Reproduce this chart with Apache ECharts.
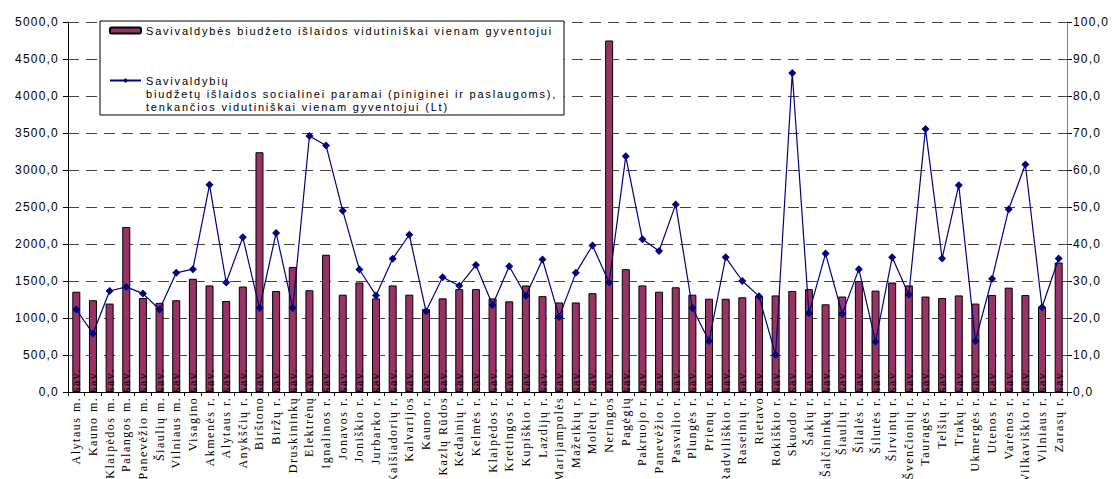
<!DOCTYPE html>
<html>
<head>
<meta charset="utf-8">
<script src="https://cdn.jsdelivr.net/npm/echarts@6/dist/echarts.min.js"></script>
<style>
  html, body { margin: 0; padding: 0; background: #fff; }
  #chart { width: 1115px; height: 479px; }
  /* the original has widely spaced letters */
  #chart svg text { letter-spacing: 1.2px; }
  #chart svg text[style*="11px"] { letter-spacing: 1.8px; }
  #chart svg text[style*="Serif"] { letter-spacing: 1.5px; }
</style>
</head>
<body>
<div id="chart"></div>
<script>
var categories = [
  'Alytaus m. sav.', 'Kauno m. sav.', 'Klaipėdos m. sav.', 'Palangos m. sav.', 'Panevėžio m. sav.',
  'Šiaulių m. sav.', 'Vilniaus m. sav.', 'Visagino sav.', 'Akmenės r. sav.', 'Alytaus r. sav.',
  'Anykščių r. sav.', 'Birštono sav.', 'Biržų r. sav.', 'Druskininkų sav.', 'Elektrėnų sav.',
  'Ignalinos r. sav.', 'Jonavos r. sav.', 'Joniškio r. sav.', 'Jurbarko r. sav.', 'Kaišiadorių r. sav.',
  'Kalvarijos sav.', 'Kauno r. sav.', 'Kazlų Rūdos sav.', 'Kėdainių r. sav.', 'Kelmės r. sav.',
  'Klaipėdos r. sav.', 'Kretingos r. sav.', 'Kupiškio r. sav.', 'Lazdijų r. sav.', 'Marijampolės sav.',
  'Mažeikių r. sav.', 'Molėtų r. sav.', 'Neringos sav.', 'Pagėgių sav.', 'Pakruojo r. sav.',
  'Panevėžio r. sav.', 'Pasvalio r. sav.', 'Plungės r. sav.', 'Prienų r. sav.', 'Radviliškio r. sav.',
  'Raseinių r. sav.', 'Rietavo sav.', 'Rokiškio r. sav.', 'Skuodo r. sav.', 'Šakių r. sav.',
  'Šalčininkų r. sav.', 'Šiaulių r. sav.', 'Šilalės r. sav.', 'Šilutės r. sav.', 'Širvintų r. sav.',
  'Švenčionių r. sav.', 'Tauragės r. sav.', 'Telšių r. sav.', 'Trakų r. sav.', 'Ukmergės r. sav.',
  'Utenos r. sav.', 'Varėnos r. sav.', 'Vilkaviškio r. sav.', 'Vilniaus r. sav.', 'Zarasų r. sav.'
];

// Savivaldybės biudžeto išlaidos vidutiniškai vienam gyventojui (left axis)
var budgetValues = [
  1355, 1240, 1195, 2230, 1270, 1205, 1240, 1530, 1440, 1230,
  1425, 3240, 1365, 1690, 1375, 1855, 1315, 1480, 1265, 1440,
  1315, 1120, 1265, 1390, 1390, 1265, 1225, 1440, 1295, 1210,
  1210, 1335, 4750, 1660, 1440, 1355, 1415, 1315, 1260, 1260,
  1280, 1295, 1305, 1365, 1390, 1185, 1290, 1500, 1370, 1480,
  1440, 1290, 1270, 1305, 1195, 1310, 1410, 1310, 1150, 1750
];

// socialinė parama vienam gyventojui (right axis)
var socialValues = [
  22.3, 15.8, 27.3, 28.4, 26.6, 22.3, 32.2, 33.2, 56.0, 29.6,
  41.8, 22.7, 43.0, 22.7, 69.2, 66.6, 49.0, 33.1, 26.1, 36.0,
  42.5, 21.8, 31.0, 28.7, 34.3, 23.5, 34.0, 26.0, 35.8, 20.3,
  32.2, 39.6, 29.6, 63.7, 41.3, 38.1, 50.7, 22.7, 13.8, 36.4,
  30.0, 25.9, 10.0, 86.2, 21.3, 37.4, 21.1, 33.2, 13.6, 36.4,
  26.3, 71.1, 36.1, 55.9, 13.8, 30.6, 49.4, 61.5, 22.9, 36.1
];

var barName = 'Savivaldybės biudžeto išlaidos vidutiniškai vienam gyventojui';
var lineName = 'Savivaldybių biudžetų išlaidos socialinei paramai (piniginei ir paslaugoms), tenkančios vidutiniškai vienam gyventojui (Lt)';

function fmt(v) {
  return v.toFixed(1).replace('.', ',');
}

var chart = echarts.init(document.getElementById('chart'), null, { renderer: 'svg' });

var option = {
  animation: false,
  backgroundColor: '#fff',
  grid: { left: 68, right: 48, top: 22, bottom: 87 },
  graphic: [{
    type: 'rect',
    z: 3,
    shape: { x: 100, y: 21, width: 464, height: 94 },
    style: { fill: '#fff', stroke: '#000', lineWidth: 1 }
  }],
  legend: {
    orient: 'vertical',
    left: 109,
    top: 24,
    z: 6,
    padding: 0,
    itemGap: 11,
    itemWidth: 31,
    itemHeight: 6,
    data: [barName, lineName],
    formatter: function (name) {
      if (name === lineName) {
        return '\n\nSavivaldybių\nbiudžetų išlaidos socialinei paramai (piniginei ir paslaugoms),\ntenkančios vidutiniškai vienam gyventojui (Lt)';
      }
      return name;
    },
    textStyle: { fontFamily: 'Liberation Sans', fontSize: 11, color: '#000', lineHeight: 13 }
  },
  xAxis: {
    type: 'category',
    data: categories,
    z: 10,
    axisLine: { lineStyle: { color: '#000', width: 1 } },
    axisTick: { show: true, interval: 0, length: 4, lineStyle: { color: '#000' } },
    axisLabel: {
      interval: 0,
      rotate: 90,
      margin: -24,
      fontFamily: 'Liberation Serif',
      fontSize: 12,
      color: '#000'
    }
  },
  yAxis: [{
    type: 'value',
    min: 0,
    max: 5000,
    interval: 500,
    axisLine: { show: true, lineStyle: { color: '#000' } },
    axisTick: { show: true, length: 5, lineStyle: { color: '#000' } },
    axisLabel: { formatter: fmt, fontFamily: 'Liberation Sans', fontSize: 12, color: '#000', margin: 9 },
    splitLine: { show: true, lineStyle: { color: '#444', type: [11, 7], width: 1 } }
  }, {
    type: 'value',
    position: 'right',
    min: 0,
    max: 100,
    interval: 10,
    axisLine: { show: true, lineStyle: { color: '#808080' } },
    axisTick: { show: true, length: 5, lineStyle: { color: '#000' } },
    axisLabel: { formatter: fmt, fontFamily: 'Liberation Sans', fontSize: 12, color: '#000', margin: 6 },
    splitLine: { show: false }
  }],
  series: [{
    name: barName,
    type: 'bar',
    yAxisIndex: 0,
    data: budgetValues,
    barWidth: 8,
    itemStyle: { color: '#993366', borderColor: '#000', borderWidth: 1 }
  }, {
    name: lineName,
    type: 'line',
    yAxisIndex: 1,
    data: socialValues,
    symbol: 'diamond',
    symbolSize: 8,
    showAllSymbol: true,
    itemStyle: { color: '#000080' },
    lineStyle: { color: '#000080', width: 1.2 }
  }]
};

chart.setOption(option);
</script>
</body>
</html>
